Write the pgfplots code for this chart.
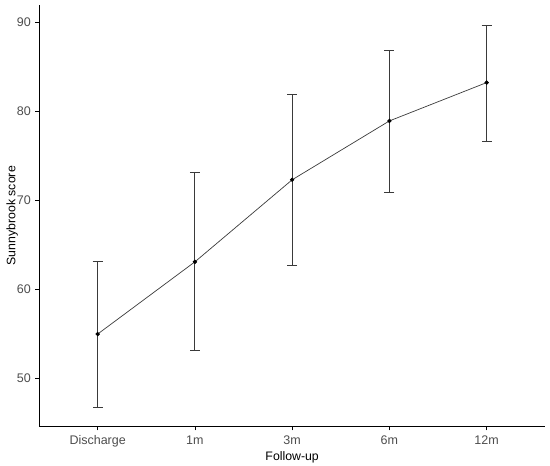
\documentclass[border=0pt]{standalone}
\usepackage{pgfplots}
\pgfplotsset{compat=1.18}
\usepackage{fontspec}
\setmainfont{Liberation Sans}
\definecolor{tickgrey}{HTML}{4D4D4D}
\definecolor{linegrey}{HTML}{3A3A3A}
\begin{document}
\begin{tikzpicture}[x=1pt,y=1pt]
\path[use as bounding box] (0,0) rectangle (550,466);
\begin{axis}[
  at={(39.3pt,39.7pt)}, anchor=south west,
  scale only axis, width=505.7pt, height=421.3pt,
  xmin=-0.6, xmax=4.6, ymin=44.66, ymax=91.9,
  axis x line=bottom, axis y line=left,
  axis line style={-, black, line width=0.8pt},
  xtick={0,1,2,3,4},
  xticklabels={Discharge,1m,3m,6m,12m},
  ytick={50,60,70,80,90},
  tick style={black, line width=0.7pt},
  tick align=outside, major tick length=4pt,
  ticklabel style={font=\fontsize{12.5}{14}\selectfont, text=tickgrey},
  /pgf/number format/assume math mode=true,
  xticklabel style={yshift=-2pt},
  yticklabel style={xshift=-1pt},
  xlabel={Follow-up}, ylabel={Sunnybrook score},
  label style={font=\fontsize{12.3}{14}\selectfont},
  xlabel style={yshift=3pt},
  ylabel style={yshift=-8pt},
  clip=false,
]
\addplot[color=linegrey, line width=0.7pt, mark=*, mark size=1.8pt,
  mark options={black, fill=black},
  error bars/.cd, y dir=both, y explicit,
  error bar style={color=linegrey, line width=0.9pt},
  error mark options={rotate=90, mark size=5pt, line width=0.9pt, color=linegrey}]
  table[x=x, y=y, y error plus=ep, y error minus=em] {
x y ep em
0 55.0 8.2 8.25
1 63.1 10.0 9.9
2 72.3 9.55 9.55
3 78.9 7.9 8.05
4 83.2 6.45 6.55
};
\end{axis}
\end{tikzpicture}
\end{document}
